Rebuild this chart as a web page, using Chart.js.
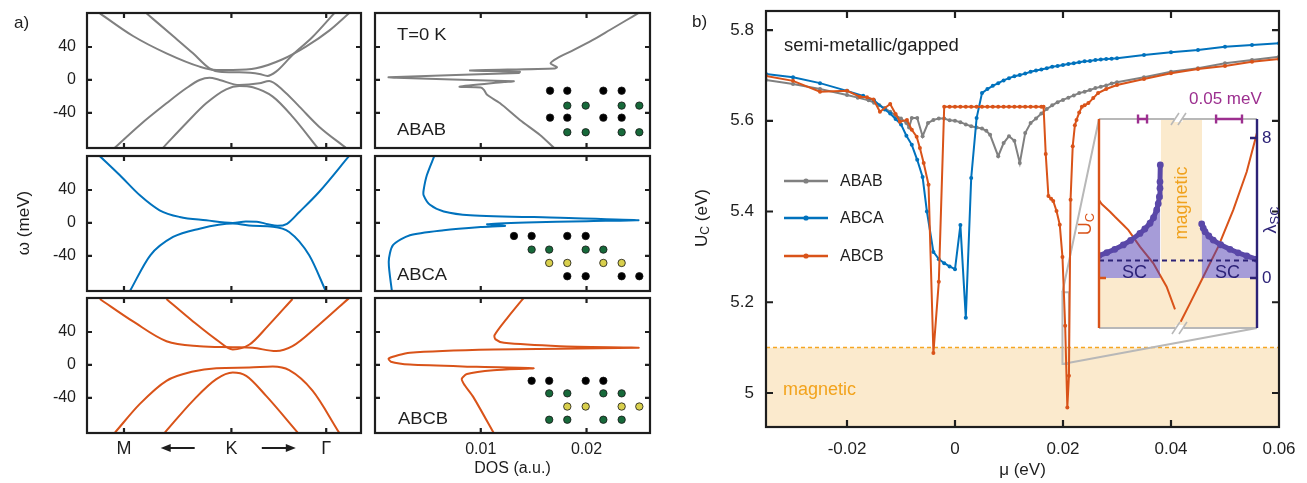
<!DOCTYPE html>
<html>
<head>
<meta charset="utf-8">
<title>Uc vs mu</title>
<script src="https://cdn.jsdelivr.net/npm/chart.js@4.4.1/dist/chart.umd.min.js"></script>
<style>
  body { margin: 0; background: #fff; }
  #fig { position: relative; width: 1307px; height: 483px; overflow: hidden; background: #fff;
         font-family: "Liberation Sans", Arial, sans-serif; color: #1e1e1e; }
  #fig canvas { position: absolute; }
  .t { position: absolute; white-space: nowrap; line-height: 1; z-index: 5; }
  .wide { transform-origin: 0 0; transform: scaleX(1.15); }
  .rot { transform: translate(-50%, -50%) rotate(-90deg); }
  .t sub { font-size: 72%; vertical-align: -0.22em; line-height: 0; }
</style>
</head>
<body>
<div id="fig">
  <div class="t" style="left:14px;top:14px;font-size:17px">a)</div>
  <div class="t rot" style="left:23px;top:223px;font-size:17px">ω (meV)</div>
  <div class="t wide" style="left:397px;top:27px;font-size:16px">T=0 K</div>
  <div class="t wide" style="left:397px;top:122px;font-size:16px">ABAB</div>
  <div class="t wide" style="left:397px;top:267px;font-size:16px">ABCA</div>
  <div class="t wide" style="left:398px;top:411px;font-size:16px">ABCB</div>

  <div class="t" style="left:692px;top:13px;font-size:17px">b)</div>
  <div class="t rot" style="left:701px;top:218px;font-size:17px">U<sub>C</sub> (eV)</div>
  <div class="t" style="left:784px;top:36px;font-size:18.5px">semi-metallic/gapped</div>
  <div class="t" style="left:783px;top:380px;font-size:18px;color:#f2a31c">magnetic</div>

  <div class="t" style="left:1189px;top:90px;font-size:17px;color:#9c2f8f">0.05 meV</div>
  <div class="t rot" style="left:1181px;top:203px;font-size:18px;color:#f0a21e">magnetic</div>
  <div class="t rot" style="left:1085px;top:224px;font-size:18px;color:#d95319">U<sub>C</sub></div>
  <div class="t rot" style="left:1270px;top:220px;font-size:18px;color:#2c2277">λ<sub>SC</sub></div>
  <div class="t" style="left:1122px;top:263px;font-size:18px;color:#2c2277">SC</div>
  <div class="t" style="left:1215px;top:263px;font-size:18px;color:#2c2277">SC</div>
</div>
<script>
// ---------- panel a) band structures: k along M-K-Γ (arbitrary units 0..100), ω in meV
const kTickVals = [13.5, 52.7, 87.3];
const kTickLabels = ['M', 'K', 'Γ'];
const omegaTicks = [-40, 0, 40];
const dosTicks = [0.01, 0.02];
const dosTickLabels = ['0.01', '0.02'];

const ababBand1 = [[4.7,80.8],[16.8,53.3],[29.0,32.3],[41.1,16.2],[47.2,12.1],[53.2,12.1],[61.7,14.1],[71.4,25.1],[79.9,40.4],[88.4,59.8],[95.6,80.8]];
const ababBand2 = [[21.7,80.8],[31.4,53.3],[38.7,32.3],[44.7,14.1],[48.4,10.1],[55.6,9.3],[62.9,7.3],[65.9,4.9],[69.0,10.1],[75.0,30.3],[82.3,52.1],[90.2,80.8]];
const ababBand3 = [[10.2,-82],[19.3,-54.5],[29.0,-28.3],[36.2,-10.1],[41.1,0],[44.7,2.8],[48.4,0],[55.6,-6.1],[62.9,-4.0],[66.5,-1.2],[71.4,-12.1],[77.5,-32.3],[84.7,-56.6],[94.4,-82]];
const ababBand4 = [[27.8,-82],[36.2,-52.5],[43.5,-28.3],[50.8,-11.3],[55.6,-7.3],[60.5,-8.9],[67.8,-20.2],[75.0,-44.4],[84.1,-82]];

const abcaBand1 = [[4.7,81],[12.0,57.8],[19.3,33.5],[26.5,15.4],[33.8,7.3],[43.5,3.2],[53.2,0],[58,1.8],[62,1.6],[66,-1.5],[69.5,-3.5],[73,-1.0],[77.5,13.3],[84.7,37.6],[95.6,81]];
const abcaBand2 = [[15.6,-83],[23.1,-39.2],[31.4,-17],[41.1,-6.9],[53.2,-0.8],[60.5,-3.5],[67.8,-4.5],[73.8,-10.9],[81.1,-39.2],[87.2,-83]];

const abcbBand1 = [[4.7,80],[16.8,52.8],[29,28.8],[41.1,22.8],[53.2,21.6],[60.5,20.8],[69.0,16.8],[75,22.8],[84.7,48.8],[95.6,81]];
const abcbBand2 = [[29,80],[38.7,52.8],[47.2,30.8],[53.2,18.8],[59.3,24.8],[65.9,46.8],[75,80]];
const abcbBand3 = [[10.2,-82],[19.3,-47.2],[29,-19.2],[38.7,-8],[47.2,-4],[59.3,-3.2],[67.8,-2],[73.8,-6.4],[82.3,-31.2],[92,-82]];
const abcbBand4 = [[28.4,-82],[38.7,-43.2],[47.2,-17.2],[53.2,-9.2],[58.1,-13.2],[65.3,-37.2],[76.9,-82]];

// density of states [DOS (a.u.), ω (meV)]
const ababDos = [[0.0249,81],[0.0238,72.7],[0.0222,60.6],[0.0206,48.5],[0.0188,36.4],[0.0172,26.3],[0.0166,20.2],[0.0172,15.5],[0.0170,14],[0.0090,11.5],[0.0137,10],[0.0136,8.5],[0.0013,3.3],[0.0020,2.6],[0.0131,-1.5],[0.0122,-2.6],[0.0080,-8.2],[0.0100,-9],[0.0103,-12],[0.0106,-18],[0.0118,-28],[0.0137,-48.5],[0.0156,-66.7],[0.0169,-82]];
const abcaDos = [[0.0056,81],[0.0049,57.8],[0.0046,40],[0.0046,33.5],[0.0052,22],[0.0065,14],[0.0090,9.5],[0.0175,6.3],[0.0249,3.4],[0.0200,2.2],[0.0143,0.6],[0.0106,-1.6],[0.0123,-3.4],[0.0100,-5],[0.0065,-8.9],[0.0033,-15],[0.0017,-27],[0.0013,-47],[0.0016,-83]];
const abcbDos = [[0.0141,82],[0.0125,56.8],[0.0113,36],[0.0114,31],[0.0122,26.8],[0.0175,22.8],[0.0249,20.8],[0.0112,18.8],[0.0033,14.8],[0.0013,8],[0.0015,4],[0.0033,0.5],[0.0096,-2.2],[0.0150,-4],[0.0112,-6.4],[0.0087,-11],[0.0082,-17],[0.0085,-25],[0.0093,-39],[0.0112,-82]];

// stacking sketches, one array per layer type (A black, B green, C yellow)
const ababDotsA = [[0.01655,-13],[0.01818,-13],[0.02159,-13],[0.02332,-13],[0.01655,-45.7],[0.01818,-45.7],[0.02159,-45.7],[0.02332,-45.7]];
const ababDotsB = [[0.01818,-31.1],[0.01992,-31.1],[0.02332,-31.1],[0.02499,-31.1],[0.01818,-63.4],[0.01992,-63.4],[0.02332,-63.4],[0.02499,-63.4]];
const abcaDotsA = [[0.01314,-15.8],[0.01481,-15.8],[0.01818,-15.8],[0.01992,-15.8],[0.01818,-64.6],[0.01992,-64.6],[0.02332,-64.6],[0.02499,-64.6]];
const abcaDotsB = [[0.01481,-32.3],[0.01647,-32.3],[0.01992,-32.3],[0.02159,-32.3]];
const abcaDotsC = [[0.01647,-48.5],[0.01818,-48.5],[0.02159,-48.5],[0.02332,-48.5]];
const abcbDotsA = [[0.01481,-19.2],[0.01647,-19.2],[0.01992,-19.2],[0.02159,-19.2]];
const abcbDotsB = [[0.01647,-34.4],[0.01818,-34.4],[0.02159,-34.4],[0.02332,-34.4],[0.01647,-66.4],[0.01818,-66.4],[0.02159,-66.4],[0.02332,-66.4]];
const abcbDotsC = [[0.01818,-50.4],[0.01992,-50.4],[0.02332,-50.4],[0.02499,-50.4]];

// ---------- panel b) critical interaction U_C (eV) vs chemical potential μ (eV)
const muTicks = [-0.02, 0, 0.02, 0.04, 0.06];
const ucTicks = [5, 5.2, 5.4, 5.6, 5.8];
const magneticU = 5.1;

const muABAB = [-0.035,-0.030,-0.025,-0.020,-0.018,-0.016,-0.015,-0.014,-0.013,-0.012,-0.011,-0.010,-0.009,-0.0085,-0.008,-0.007,-0.006,-0.005,-0.004,-0.003,-0.002,-0.001,0,0.001,0.002,0.003,0.004,0.005,0.0058,0.0065,0.008,0.009,0.010,0.011,0.012,0.013,0.014,0.015,0.016,0.017,0.018,0.019,0.020,0.021,0.022,0.023,0.024,0.025,0.026,0.027,0.028,0.029,0.030,0.035,0.040,0.045,0.050,0.055,0.060];
const ucABAB = [5.690,5.681,5.670,5.657,5.651,5.645,5.640,5.634,5.628,5.620,5.612,5.605,5.595,5.585,5.606,5.606,5.566,5.595,5.602,5.605,5.605,5.601,5.600,5.597,5.592,5.588,5.585,5.583,5.578,5.569,5.522,5.551,5.566,5.556,5.507,5.573,5.595,5.605,5.616,5.626,5.634,5.641,5.646,5.651,5.656,5.661,5.664,5.668,5.672,5.675,5.678,5.682,5.685,5.696,5.708,5.716,5.727,5.734,5.741];

const muABCA = [-0.035,-0.030,-0.025,-0.020,-0.017,-0.015,-0.013,-0.012,-0.011,-0.010,-0.009,-0.008,-0.007,-0.006,-0.0052,-0.004,-0.003,-0.002,-0.001,0,0.001,0.002,0.003,0.004,0.005,0.006,0.007,0.008,0.009,0.010,0.011,0.012,0.013,0.014,0.015,0.016,0.017,0.018,0.019,0.020,0.021,0.022,0.023,0.024,0.025,0.026,0.027,0.028,0.029,0.030,0.035,0.040,0.045,0.050,0.055,0.060];
const ucABCA = [5.703,5.696,5.683,5.666,5.655,5.645,5.625,5.616,5.604,5.592,5.567,5.547,5.514,5.476,5.400,5.311,5.295,5.286,5.279,5.273,5.370,5.166,5.474,5.606,5.661,5.670,5.677,5.683,5.689,5.694,5.698,5.701,5.704,5.708,5.711,5.713,5.716,5.719,5.721,5.723,5.725,5.727,5.729,5.731,5.732,5.734,5.735,5.736,5.737,5.738,5.745,5.751,5.756,5.763,5.767,5.771];

const muABCB = [-0.035,-0.030,-0.025,-0.020,-0.0176,-0.0163,-0.0151,-0.0139,-0.012,-0.011,-0.0102,-0.0089,-0.008,-0.0071,-0.0065,-0.0058,-0.0049,-0.004,-0.003,-0.002,-0.001,0,0.001,0.002,0.003,0.004,0.005,0.006,0.007,0.008,0.009,0.010,0.011,0.012,0.013,0.014,0.015,0.016,0.0164,0.0168,0.0173,0.0178,0.0182,0.0188,0.0194,0.0199,0.0204,0.0208,0.0211,0.0214,0.0218,0.0222,0.0225,0.023,0.0235,0.024,0.0247,0.0256,0.0265,0.028,0.030,0.035,0.040,0.045,0.050,0.055,0.060];
const ucABCB = [5.699,5.688,5.664,5.666,5.653,5.652,5.647,5.620,5.637,5.615,5.598,5.602,5.580,5.565,5.540,5.507,5.459,5.088,5.245,5.631,5.631,5.631,5.631,5.631,5.631,5.631,5.631,5.631,5.631,5.631,5.631,5.631,5.631,5.631,5.631,5.631,5.631,5.631,5.631,5.527,5.434,5.428,5.423,5.401,5.371,5.300,5.148,4.968,5.038,5.426,5.544,5.590,5.602,5.618,5.631,5.634,5.639,5.650,5.661,5.670,5.679,5.692,5.705,5.714,5.721,5.730,5.736];

// zoomed window (μ range, U range) shown in the inset
const zoomMu = [0.0199, 0.0211];
const zoomU = [5.064, 5.222];

// inset: x in arbitrary units (0..100), λ_SC on the right axis, U_C on a hidden axis
const lamTicks = [0, 8];
const scThreshold = 1;
const insetMagnetic = [39.2, 65.2];
const insetBars = [[24.7, 30.4], [74.1, 90.5]];
const lamLeft = [[0,1.28],[5,1.45],[10,1.64],[15.4,1.89],[20,2.15],[25.9,2.55],[29,2.8],[32.3,3.13],[34.5,3.45],[36.5,3.89],[37.5,4.25],[38.2,4.65],[38.6,5.13],[38.6,5.5],[38.8,6.46]];
const lamRight = [[65,3.09],[66,2.85],[67.1,2.65],[69.5,2.4],[72.3,2.17],[77,1.9],[82.9,1.64],[88,1.44],[93.5,1.26],[99.8,1.07]];
const ucInsetLeft = [[0,4.45],[1.7,4.23],[7.0,3.79],[10.1,3.5],[15.4,3.03],[18.6,2.74],[25.9,1.79],[34.4,0.84],[42.8,-0.5],[48.1,-1.79]];
const ucInsetRight = [[51.7,-2.5],[57.6,-1.45],[66,0.07],[75.5,1.79],[85,3.89],[93.5,6.07],[100,8.3]];

// ---------- drawing
const FONT = '"Liberation Sans", Arial, sans-serif';
const INK = '#1e1e1e';
const GREY = '#808080', BLUE = '#0072bd', ORANGE = '#d95319';
const NAVY = '#2c2277', PURPLE = '#5a48a8';
const INSET = {x: 1099, y: 119, w: 158, h: 209};

Chart.defaults.font.family = FONT;
Chart.defaults.color = INK;

const fig = document.getElementById('fig');
const toXY = arr => arr.map(([x, y]) => ({x, y}));
const zipXY = (xs, ys) => xs.map((x, i) => ({x, y: ys[i]}));

// fixed axis size, and no extra padding asked by the tick labels
const fixW = w => s => { s.width = w; s.paddingTop = 0; s.paddingBottom = 0; };
const fixH = h => s => { s.height = h; s.paddingLeft = 0; s.paddingRight = 0; };

function place(box, pad, config) {
  const cv = document.createElement('canvas');
  const w = box.w + pad.l + pad.r, h = box.h + pad.t + pad.b;
  cv.width = w; cv.height = h;
  Object.assign(cv.style, {left: (box.x - pad.l) + 'px', top: (box.y - pad.t) + 'px', width: w + 'px', height: h + 'px'});
  fig.appendChild(cv);
  const o = config.options;
  o.responsive = false; o.animation = false; o.devicePixelRatio = 1; o.events = [];
  o.layout = o.layout || {autoPadding: false, padding: {left: 0, top: pad.t, right: pad.r, bottom: 0}};
  o.plugins = Object.assign({legend: {display: false}, tooltip: {enabled: false}}, o.plugins || {});
  return new Chart(cv, config);
}

// box with inward tick marks on all four sides
function framePlugin(tl, lw) {
  return {
    id: 'frame',
    afterDatasetsDraw(chart) {
      const {ctx, chartArea: a} = chart;
      const xs = chart.scales.x, ys = chart.scales.y;
      ctx.save();
      ctx.strokeStyle = INK; ctx.lineWidth = lw;
      ctx.beginPath();
      xs.ticks.forEach(t => {
        const p = xs.getPixelForValue(t.value);
        if (p < a.left + 2 || p > a.right - 2) return;
        ctx.moveTo(p, a.bottom); ctx.lineTo(p, a.bottom - tl);
        ctx.moveTo(p, a.top); ctx.lineTo(p, a.top + tl);
      });
      ys.ticks.forEach(t => {
        const p = ys.getPixelForValue(t.value);
        if (p < a.top + 2 || p > a.bottom - 2) return;
        ctx.moveTo(a.left, p); ctx.lineTo(a.left + tl, p);
        ctx.moveTo(a.right, p); ctx.lineTo(a.right - tl, p);
      });
      ctx.stroke();
      ctx.strokeRect(a.left, a.top, a.width, a.height);
      ctx.restore();
    }
  };
}

const kArrows = {
  id: 'kArrows',
  afterDraw(chart) {
    const {ctx, chartArea: a, scales: {x}} = chart;
    const y = a.bottom + 15;
    const p = kTickVals.map(v => x.getPixelForValue(v));
    ctx.save();
    ctx.strokeStyle = ctx.fillStyle = INK; ctx.lineWidth = 2;
    [[(p[0] + p[1]) / 2, -1], [(p[1] + p[2]) / 2, 1]].forEach(([c, dir]) => {
      const head = c + dir * 17;
      ctx.beginPath(); ctx.moveTo(c - dir * 17, y); ctx.lineTo(head - dir * 6, y); ctx.stroke();
      ctx.beginPath(); ctx.moveTo(head, y); ctx.lineTo(head - dir * 10, y - 4); ctx.lineTo(head - dir * 10, y + 4); ctx.closePath(); ctx.fill();
    });
    ctx.restore();
  }
};

function omegaScale(show, width) {
  return {
    type: 'linear', min: -82.5, max: 81.2,
    grid: {display: false, drawTicks: false}, border: {display: false},
    afterBuildTicks: s => { s.ticks = omegaTicks.map(v => ({value: v})); },
    afterFit: fixW(width),
    ticks: {display: show, padding: 11, font: {size: 16}, callback: v => String(v)}
  };
}

function bandChart(top, bands, color, bottom) {
  return place({x: 87, y: top, w: 274, h: 135}, {l: 87, r: 6, t: 8, b: bottom ? 50 : 6}, {
    type: 'scatter',
    data: {datasets: bands.map(b => ({
      data: toXY(b), borderColor: color, borderWidth: 2, pointRadius: 0,
      showLine: true, cubicInterpolationMode: 'monotone'
    }))},
    options: {scales: {
      x: {
        type: 'linear', min: 0, max: 100,
        grid: {display: false, drawTicks: false}, border: {display: false},
        afterBuildTicks: s => { s.ticks = kTickVals.map(v => ({value: v})); },
        afterFit: fixH(bottom ? 50 : 6),
        ticks: {display: bottom, padding: 5, autoSkip: false, maxRotation: 0, font: {size: 18},
                callback: (v, i) => kTickLabels[i]}
      },
      y: omegaScale(true, 87)
    }},
    plugins: bottom ? [framePlugin(5, 2.2), kArrows] : [framePlugin(5, 2.2)]
  });
}

function dots(arr, fill) {
  return {data: toXY(arr), showLine: false, pointRadius: 3.7, pointBackgroundColor: fill,
          pointBorderColor: '#151515', pointBorderWidth: 0.8};
}

function dosChart(top, curve, color, layers, bottom) {
  const fills = ['#000000', '#17693a', '#d8cf4c'];
  return place({x: 375, y: top, w: 275, h: 135}, {l: 6, r: 8, t: 8, b: bottom ? 50 : 6}, {
    type: 'scatter',
    data: {datasets: [
      {data: toXY(curve), borderColor: color, borderWidth: 2, pointRadius: 0, showLine: true, tension: 0.25},
      ...layers.map((l, i) => dots(l, fills[i]))
    ]},
    options: {scales: {
      x: {
        type: 'linear', min: 0, max: 0.026,
        grid: {display: false, drawTicks: false}, border: {display: false},
        afterBuildTicks: s => { s.ticks = dosTicks.map(v => ({value: v})); },
        afterFit: fixH(bottom ? 50 : 6),
        ticks: {display: bottom, padding: 7, autoSkip: false, maxRotation: 0, font: {size: 16},
                callback: (v, i) => dosTickLabels[i]},
        title: {display: bottom, text: 'DOS (a.u.)', font: {size: 16}, padding: {top: 0, bottom: 5}}
      },
      y: omegaScale(false, 6)
    }},
    plugins: [framePlugin(5, 2.2)]
  });
}

bandChart(13, [ababBand1, ababBand2, ababBand3, ababBand4], GREY, false);
bandChart(156, [abcaBand1, abcaBand2], BLUE, false);
bandChart(298, [abcbBand1, abcbBand2, abcbBand3, abcbBand4], ORANGE, true);
dosChart(13, ababDos, GREY, [ababDotsA, ababDotsB], false);
dosChart(156, abcaDos, BLUE, [abcaDotsA, abcaDotsB, abcaDotsC], false);
dosChart(298, abcbDos, ORANGE, [abcbDotsA, abcbDotsB, abcbDotsC], true);

// ---------- panel b main chart
const magneticPlugin = {
  id: 'magnetic',
  beforeDatasetsDraw(chart) {
    const {ctx, chartArea: a, scales: {x, y}} = chart;
    const yy = y.getPixelForValue(magneticU);
    ctx.save();
    ctx.fillStyle = '#fbeacd';
    ctx.fillRect(a.left, yy, a.width, a.bottom - yy);
    ctx.strokeStyle = '#f5a623'; ctx.lineWidth = 1.5; ctx.setLineDash([4, 3]);
    ctx.beginPath(); ctx.moveTo(a.left, yy); ctx.lineTo(a.right, yy); ctx.stroke();
    ctx.setLineDash([]);
    // zoom window and connectors to the inset
    const offL = chart.canvas.offsetLeft, offT = chart.canvas.offsetTop;
    const x0 = x.getPixelForValue(zoomMu[0]), x1 = x.getPixelForValue(zoomMu[1]);
    const y0 = y.getPixelForValue(zoomU[1]), y1 = y.getPixelForValue(zoomU[0]);
    ctx.strokeStyle = '#b8b8b8'; ctx.lineWidth = 2;
    ctx.strokeRect(x0, y0, x1 - x0, y1 - y0);
    ctx.beginPath();
    ctx.moveTo(x0, y0); ctx.lineTo(INSET.x - offL, INSET.y - offT);
    ctx.moveTo(x0, y1); ctx.lineTo(INSET.x + INSET.w - offL, INSET.y + INSET.h - offT);
    ctx.stroke();
    ctx.restore();
  }
};

const legendPlugin = {
  id: 'lineLegend',
  afterDraw(chart) {
    const {ctx, chartArea: a} = chart;
    const rowsY = [170, 207, 245];
    ctx.save();
    ctx.font = '16px ' + FONT; ctx.textBaseline = 'middle';
    chart.data.datasets.forEach((ds, i) => {
      const y = a.top + rowsY[i];
      ctx.strokeStyle = ds.borderColor; ctx.fillStyle = ds.borderColor; ctx.lineWidth = 2.5;
      ctx.beginPath(); ctx.moveTo(a.left + 18, y); ctx.lineTo(a.left + 62, y); ctx.stroke();
      ctx.beginPath(); ctx.arc(a.left + 40, y, 2.6, 0, Math.PI * 2); ctx.fill();
      ctx.fillStyle = INK; ctx.fillText(ds.label, a.left + 74, y + 1);
    });
    ctx.restore();
  }
};

function series(label, xs, ys, color, order) {
  return {label, data: zipXY(xs, ys), borderColor: color, backgroundColor: color, borderWidth: 2,
          showLine: true, pointRadius: 2, pointBorderWidth: 0, pointBackgroundColor: color, order};
}

place({x: 766, y: 11, w: 513, h: 416}, {l: 86, r: 28, t: 11, b: 56}, {
  type: 'scatter',
  data: {datasets: [
    series('ABAB', muABAB, ucABAB, GREY, 3),
    series('ABCA', muABCA, ucABCA, BLUE, 2),
    series('ABCB', muABCB, ucABCB, ORANGE, 1)
  ]},
  options: {scales: {
    x: {
      type: 'linear', min: -0.035, max: 0.06,
      grid: {display: false, drawTicks: false}, border: {display: false},
      afterBuildTicks: s => { s.ticks = muTicks.map(v => ({value: v})); },
      afterFit: fixH(56),
      ticks: {padding: 12, autoSkip: false, maxRotation: 0, font: {size: 17}, callback: v => String(v)},
      title: {display: true, text: 'μ (eV)', font: {size: 17}, padding: {top: 0, bottom: 2}}
    },
    y: {
      type: 'linear', min: 4.925, max: 5.842,
      grid: {display: false, drawTicks: false}, border: {display: false},
      afterBuildTicks: s => { s.ticks = ucTicks.map(v => ({value: v})); },
      afterFit: fixW(86),
      ticks: {padding: 12, font: {size: 17}, callback: v => String(v)}
    }
  }},
  plugins: [magneticPlugin, framePlugin(7, 2.2), legendPlugin]
});

// ---------- inset
const insetBg = {
  id: 'insetBg',
  beforeDatasetsDraw(chart) {
    const {ctx, chartArea: a, scales: {x, lam}} = chart;
    ctx.save();
    ctx.fillStyle = '#ffffff';
    ctx.fillRect(a.left, a.top, a.width, a.height);
    ctx.fillStyle = '#fbeacd';
    const y0 = lam.getPixelForValue(0);
    ctx.fillRect(a.left, y0, a.width, a.bottom - y0);
    const m0 = x.getPixelForValue(insetMagnetic[0]), m1 = x.getPixelForValue(insetMagnetic[1]);
    ctx.fillRect(m0, a.top, m1 - m0, a.height);
    ctx.restore();
  }
};

function breakMark(ctx, cx, cy) {
  ctx.fillStyle = '#ffffff';
  ctx.fillRect(cx - 4, cy - 3, 8, 6);
  ctx.strokeStyle = '#b8b8b8'; ctx.lineWidth = 1.6;
  ctx.beginPath();
  [-3.5, 3.5].forEach(o => { ctx.moveTo(cx + o - 4, cy + 6); ctx.lineTo(cx + o + 4, cy - 6); });
  ctx.stroke();
}

const insetFrame = {
  id: 'insetFrame',
  afterDatasetsDraw(chart) {
    const {ctx, chartArea: a, scales: {x, lam}} = chart;
    ctx.save();
    ctx.lineWidth = 2.2;
    ctx.strokeStyle = '#b8b8b8';
    ctx.beginPath();
    ctx.moveTo(a.left, a.top); ctx.lineTo(a.right, a.top);
    ctx.moveTo(a.left, a.bottom); ctx.lineTo(a.right, a.bottom);
    ctx.stroke();
    const bx = x.getPixelForValue(50.3);
    breakMark(ctx, bx, a.top);
    breakMark(ctx, bx + 1, a.bottom);
    ctx.lineWidth = 2.4;
    ctx.strokeStyle = ORANGE;
    ctx.beginPath(); ctx.moveTo(a.left, a.top); ctx.lineTo(a.left, a.bottom);
    const z = lam.getPixelForValue(0);
    ctx.moveTo(a.left, z); ctx.lineTo(a.left + 7, z);
    ctx.stroke();
    ctx.strokeStyle = NAVY;
    ctx.beginPath(); ctx.moveTo(a.right, a.top); ctx.lineTo(a.right, a.bottom);
    lamTicks.forEach(v => { const p = lam.getPixelForValue(v); ctx.moveTo(a.right, p); ctx.lineTo(a.right - 7, p); });
    ctx.stroke();
    // 0.05 meV scale bars
    ctx.strokeStyle = '#9c2f8f'; ctx.lineWidth = 2.4;
    ctx.beginPath();
    insetBars.forEach(([b0, b1]) => {
      const p0 = x.getPixelForValue(b0), p1 = x.getPixelForValue(b1);
      ctx.moveTo(p0, a.top); ctx.lineTo(p1, a.top);
      ctx.moveTo(p0, a.top - 4.5); ctx.lineTo(p0, a.top + 4.5);
      ctx.moveTo(p1, a.top - 4.5); ctx.lineTo(p1, a.top + 4.5);
    });
    ctx.stroke();
    ctx.restore();
  }
};

place(INSET, {l: 39, r: 43, t: 29, b: 12}, {
  type: 'scatter',
  data: {datasets: [
    {data: [{x: 0, y: scThreshold}, {x: 100, y: scThreshold}], yAxisID: 'lam', showLine: true, pointRadius: 0,
     borderColor: NAVY, borderWidth: 2, borderDash: [5, 4], order: 1},
    {data: toXY(lamLeft), yAxisID: 'lam', showLine: true, borderColor: PURPLE, borderWidth: 5,
     pointRadius: 3.4, pointBorderWidth: 0, pointBackgroundColor: PURPLE,
     fill: 'origin', backgroundColor: 'rgba(78,58,178,0.5)', order: 2},
    {data: toXY(lamRight), yAxisID: 'lam', showLine: true, borderColor: PURPLE, borderWidth: 5,
     pointRadius: 3.4, pointBorderWidth: 0, pointBackgroundColor: PURPLE,
     fill: 'origin', backgroundColor: 'rgba(78,58,178,0.5)', order: 2},
    {data: toXY(ucInsetLeft), yAxisID: 'uc', showLine: true, pointRadius: 0, borderColor: ORANGE, borderWidth: 2, order: 3},
    {data: toXY(ucInsetRight), yAxisID: 'uc', showLine: true, pointRadius: 0, borderColor: ORANGE, borderWidth: 2, order: 3}
  ]},
  options: {
    layout: {autoPadding: false, padding: {left: 39, top: 29, right: 0, bottom: 12}},
    scales: {
      x: {type: 'linear', min: 0, max: 100, display: false},
      lam: {
        type: 'linear', position: 'right', min: -2.86, max: 9.09,
        grid: {display: false, drawTicks: false}, border: {display: false},
        afterBuildTicks: s => { s.ticks = lamTicks.map(v => ({value: v})); },
        afterFit: fixW(43),
        ticks: {padding: 5, color: NAVY, font: {size: 17}, callback: v => String(v)}
      },
      uc: {type: 'linear', min: -2.86, max: 9.09, display: false}
    }
  },
  plugins: [insetBg, insetFrame]
});
</script>
</body>
</html>
